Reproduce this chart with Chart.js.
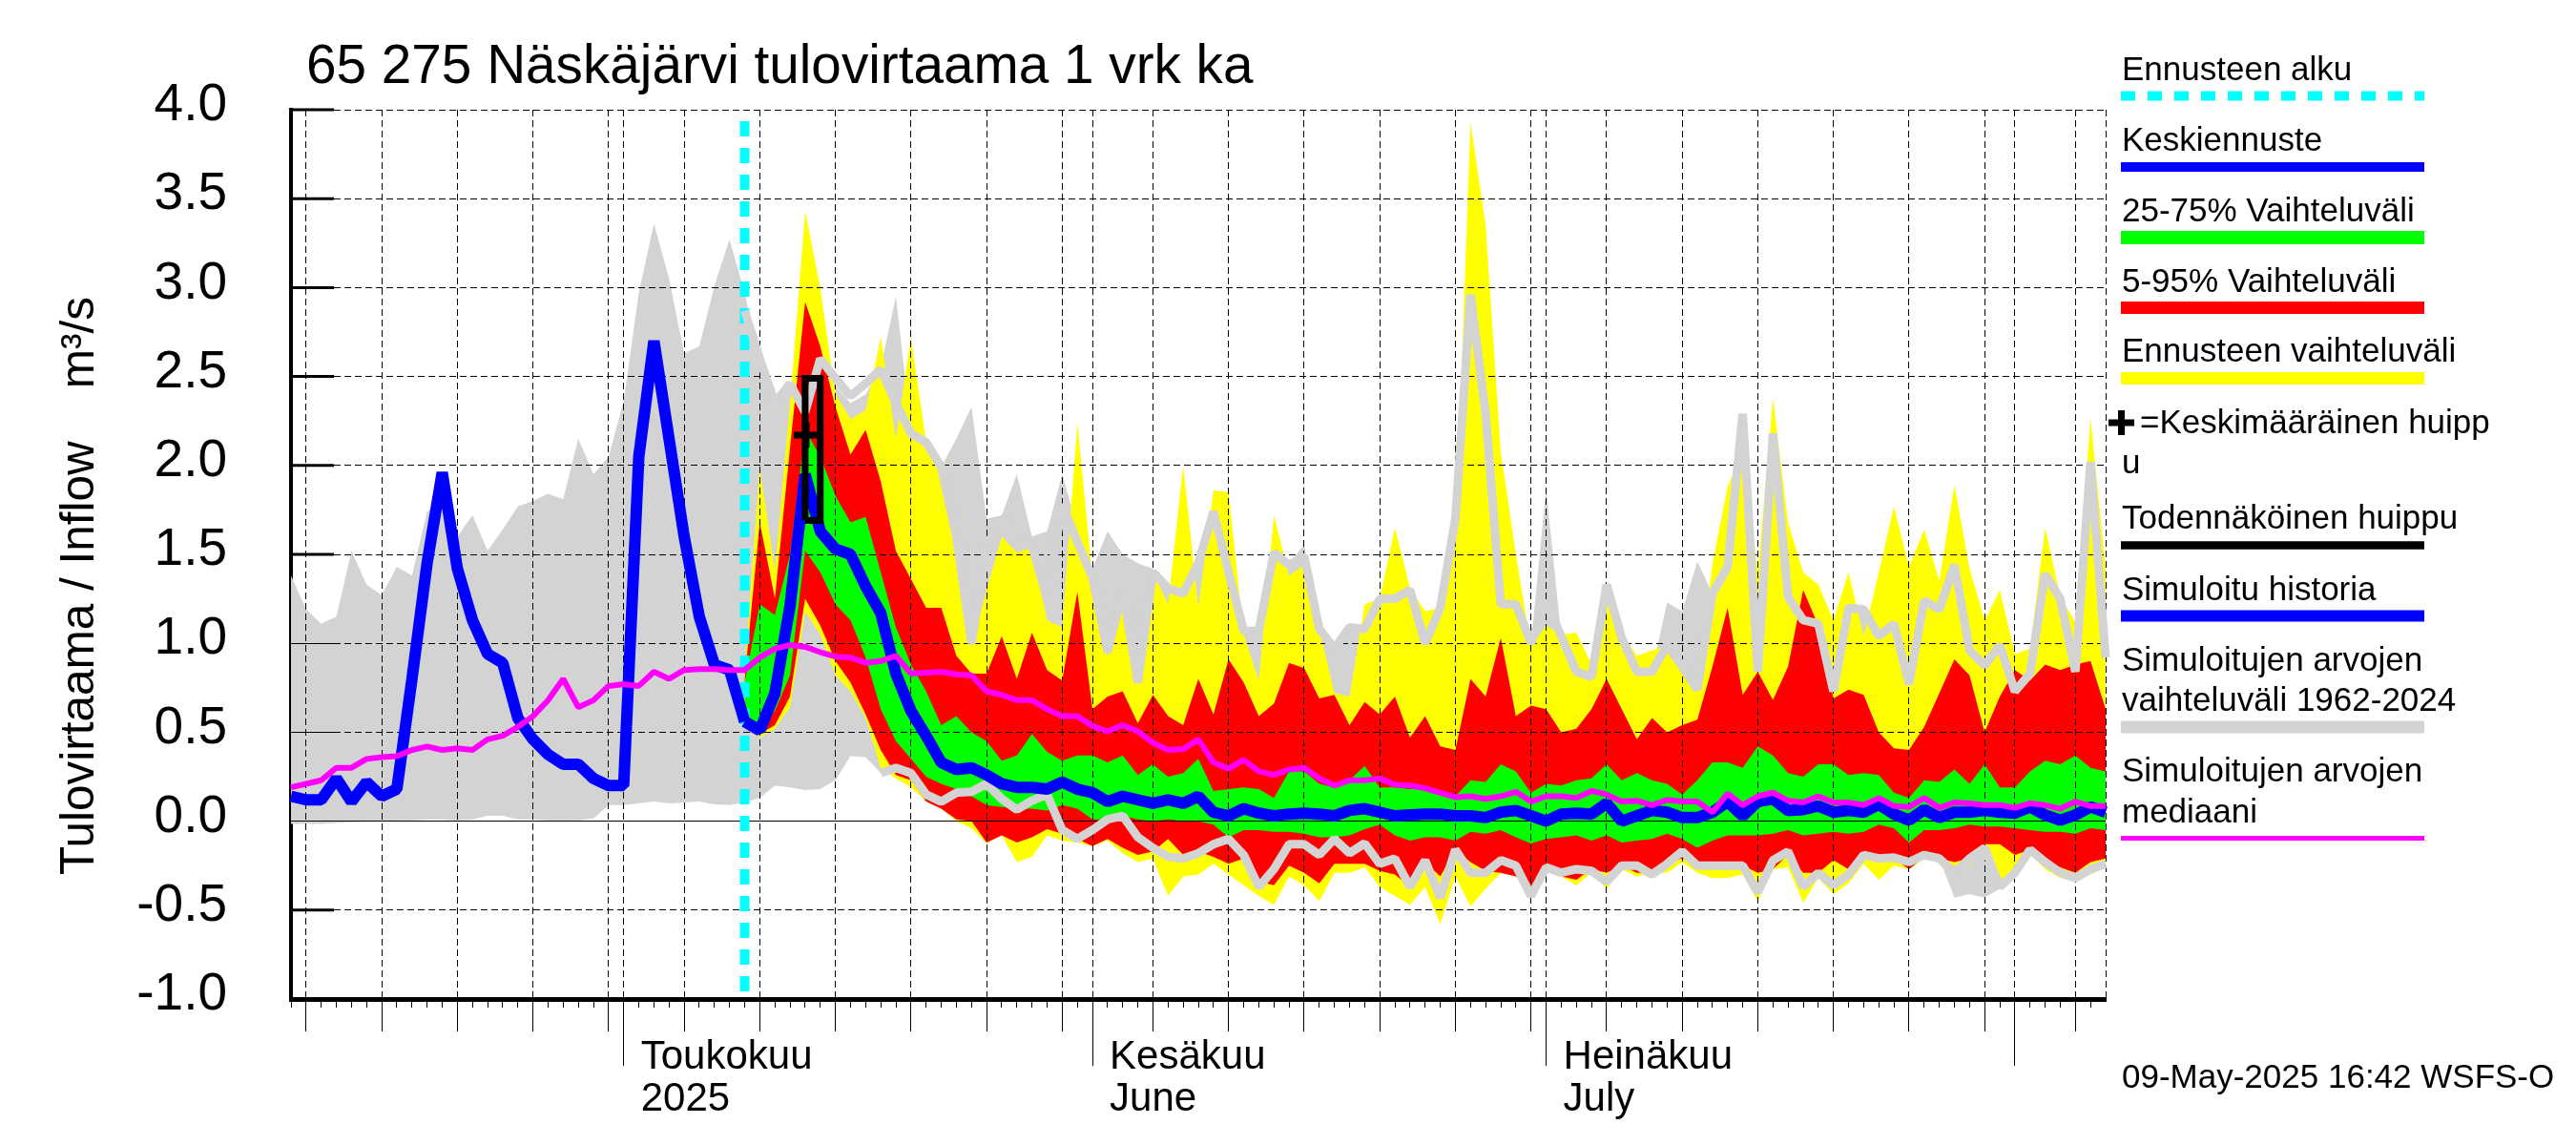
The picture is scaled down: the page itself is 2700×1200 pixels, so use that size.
<!DOCTYPE html>
<html>
<head>
<meta charset="utf-8">
<title>Näskäjärvi tulovirtaama</title>
<script src="https://cdn.jsdelivr.net/npm/chart.js@4/dist/chart.umd.min.js"></script>
<style>
  html, body { margin: 0; padding: 0; background: #fff; }
  canvas { display: block; }
</style>
</head>
<body>
<canvas id="chart" width="2700" height="1200"></canvas>
<script>
// x is days counted from 9 Apr 2025, one value per day
const lastDay = 120;
const forecastStart = 30;
const monthDays = [22, 53, 83, 114];
const monthLabels = [['Toukokuu', '2025'], ['Kesäkuu', 'June'], ['Heinäkuu', 'July'], ''];
const gridDays = [1, 6, 11, 16, 21, 22, 26, 31, 36, 41, 46, 51, 53, 57, 62, 67, 72, 77, 82, 83, 87, 92, 97, 102, 107, 112, 114, 118, 120];
const yTicks = [-1, -0.5, 0, 0.5, 1, 1.5, 2, 2.5, 3, 3.5, 4];

// day 0 ->
const simHi = [1.38, 1.19, 1.11, 1.15, 1.52, 1.33, 1.27, 1.43, 1.38, 1.74, 1.8, 1.6, 1.72, 1.52, 1.64, 1.77, 1.8, 1.84, 1.81, 2.15, 1.95, 2.05, 2.36, 2.97, 3.36, 3.05, 2.63, 2.67, 3.01, 3.27, 2.97, 2.58, 2.34, 2.46, 2.4, 2.55, 2.45, 2.35, 2.4, 2.55, 2.95, 2.2, 2.1, 1.99, 2.15, 2.33, 1.7, 1.72, 1.95, 1.6, 1.63, 1.95, 1.65, 1.42, 1.63, 1.5, 1.45, 1.42, 1.31, 1.28, 1.45, 1.74, 1.4, 1.07, 1.07, 1.51, 1.44, 1.56, 1.08, 0.97, 1.09, 1.08, 1.25, 1.25, 1.3, 1, 1.2, 1.7, 2.96, 2.29, 1.22, 1.22, 1, 1.87, 1.04, 0.84, 0.81, 1.33, 1.03, 0.84, 0.84, 1.23, 1.18, 1.46, 1.28, 1.43, 2.29, 0.84, 2.18, 1.26, 1.13, 1.11, 0.73, 1.2, 1.19, 1.04, 1.11, 0.77, 1.24, 1.19, 1.44, 0.96, 0.875, 0.99, 0.73, 0.83, 1.39, 1.25, 0.84, 2.02, 0.92];
const simLo = [-0.015, -0.015, -0.015, -0.01, -0.006, -0.002, 0, 0.005, 0.005, 0.01, 0.01, 0.005, 0.01, 0.03, 0.03, 0.01, 0.01, 0.005, 0.005, 0.005, 0.015, 0.09, 0.09, 0.1, 0.11, 0.1, 0.105, 0.11, 0.095, 0.09, 0.105, 0.13, 0.2, 0.19, 0.175, 0.18, 0.23, 0.365, 0.36, 0.27, 0.3, 0.27, 0.15, 0.11, 0.16, 0.165, 0.21, 0.125, 0.065, 0.115, 0.15, -0.05, -0.1, -0.05, 0.01, 0.03, -0.09, -0.15, -0.2, -0.21, -0.18, -0.13, -0.1, -0.19, -0.37, -0.27, -0.13, -0.13, -0.19, -0.1, -0.18, -0.125, -0.24, -0.21, -0.37, -0.22, -0.43, -0.16, -0.29, -0.29, -0.22, -0.25, -0.42, -0.26, -0.29, -0.27, -0.28, -0.34, -0.25, -0.25, -0.3, -0.24, -0.17, -0.25, -0.25, -0.25, -0.25, -0.4, -0.22, -0.17, -0.37, -0.29, -0.36, -0.3, -0.19, -0.21, -0.205, -0.23, -0.19, -0.21, -0.43, -0.41, -0.43, -0.38, -0.29, -0.16, -0.23, -0.29, -0.32, -0.27, -0.24];
const median = [0.19, 0.21, 0.23, 0.3, 0.3, 0.35, 0.36, 0.365, 0.4, 0.42, 0.4, 0.41, 0.4, 0.46, 0.48, 0.53, 0.59, 0.68, 0.8, 0.64, 0.68, 0.76, 0.77, 0.76, 0.84, 0.8, 0.85, 0.855, 0.855, 0.85, 0.85, 0.92, 0.97, 0.99, 0.98, 0.95, 0.925, 0.92, 0.89, 0.9, 0.93, 0.83, 0.835, 0.84, 0.825, 0.82, 0.73, 0.71, 0.68, 0.68, 0.63, 0.59, 0.59, 0.535, 0.505, 0.54, 0.505, 0.44, 0.4, 0.405, 0.46, 0.33, 0.295, 0.345, 0.28, 0.26, 0.29, 0.3, 0.24, 0.2, 0.23, 0.23, 0.24, 0.205, 0.2, 0.185, 0.16, 0.135, 0.14, 0.125, 0.14, 0.165, 0.11, 0.14, 0.14, 0.13, 0.17, 0.15, 0.11, 0.115, 0.09, 0.12, 0.11, 0.11, 0.05, 0.155, 0.09, 0.14, 0.16, 0.115, 0.105, 0.14, 0.105, 0.105, 0.09, 0.13, 0.085, 0.08, 0.13, 0.075, 0.105, 0.1, 0.09, 0.09, 0.075, 0.1, 0.09, 0.07, 0.11, 0.085, 0.085];
const history = [0.14, 0.12, 0.12, 0.24, 0.11, 0.22, 0.14, 0.18, 0.8, 1.45, 1.96, 1.42, 1.13, 0.94, 0.89, 0.58, 0.46, 0.375, 0.32, 0.32, 0.24, 0.2, 0.2, 2.05, 2.7, 2.15, 1.6, 1.15, 0.88, 0.85, 0.56];

// day 30 ->
const meanForecast = [0.56, 0.51, 0.72, 1.21, 1.95, 1.63, 1.53, 1.5, 1.32, 1.17, 0.83, 0.62, 0.48, 0.33, 0.29, 0.3, 0.26, 0.21, 0.19, 0.19, 0.18, 0.22, 0.18, 0.16, 0.11, 0.14, 0.12, 0.1, 0.12, 0.1, 0.14, 0.05, 0.03, 0.07, 0.045, 0.03, 0.04, 0.045, 0.04, 0.03, 0.06, 0.07, 0.05, 0.03, 0.035, 0.04, 0.04, 0.03, 0.03, 0.02, 0.05, 0.06, 0.03, 0, 0.04, 0.045, 0.04, 0.1, 0, 0.03, 0.06, 0.05, 0.02, 0.02, 0.05, 0.11, 0.03, 0.11, 0.125, 0.06, 0.065, 0.085, 0.05, 0.06, 0.05, 0.095, 0.04, 0.005, 0.065, 0.02, 0.05, 0.05, 0.06, 0.05, 0.045, 0.08, 0.035, 0.005, 0.035, 0.08, 0.05];
const yellowHi = [0.85, 1.99, 1.41, 2.35, 3.43, 3, 2.4, 2.26, 2.31, 2.72, 2.15, 2.72, 2.13, 1.99, 1.52, 0.97, 1.3, 1.6, 1.51, 1.54, 1.13, 1.09, 2.24, 1.37, 0.92, 1.28, 0.76, 1.4, 1.22, 2, 1.2, 1.86, 1.85, 1.05, 0.79, 1.72, 1.38, 1.44, 1.08, 0.72, 0.7, 1.22, 1.25, 1.65, 1.31, 1.18, 1.2, 1.58, 3.93, 3.35, 2.08, 1.5, 0.98, 1.1, 1.05, 1.06, 0.88, 1.3, 1.06, 0.93, 0.96, 0.99, 0.87, 0.74, 1.45, 1.88, 2.08, 1.4, 2.38, 1.68, 1.4, 1.33, 1.13, 1.4, 1.04, 1.4, 1.77, 1.43, 1.64, 1.35, 1.89, 1.42, 1.13, 1.3, 0.94, 0.97, 1.65, 1.26, 1.12, 2.27, 1.42];
const yellowLo = [0.57, 0.47, 0.52, 0.64, 1.18, 1.05, 0.82, 0.73, 0.58, 0.3, 0.24, 0.19, 0.11, 0.07, 0, -0.04, -0.125, -0.08, -0.23, -0.2, -0.08, -0.11, -0.12, -0.14, -0.11, -0.18, -0.23, -0.21, -0.42, -0.31, -0.3, -0.24, -0.3, -0.36, -0.42, -0.47, -0.31, -0.36, -0.45, -0.29, -0.29, -0.26, -0.37, -0.42, -0.47, -0.37, -0.58, -0.31, -0.48, -0.38, -0.29, -0.31, -0.42, -0.26, -0.31, -0.36, -0.29, -0.38, -0.27, -0.31, -0.29, -0.29, -0.23, -0.29, -0.32, -0.32, -0.3, -0.45, -0.27, -0.26, -0.46, -0.32, -0.41, -0.35, -0.24, -0.33, -0.25, -0.27, -0.21, -0.21, -0.25, -0.25, -0.14, -0.37, -0.26, -0.18, -0.27, -0.32, -0.33, -0.3, -0.26];
const redHi = [0.8, 1.68, 1.25, 2.1, 2.92, 2.67, 2.33, 2.06, 2.2, 1.91, 1.52, 1.36, 1.2, 1.2, 0.93, 0.83, 0.83, 1.04, 0.8, 1.06, 0.85, 0.79, 1.29, 0.63, 0.7, 0.73, 0.55, 0.71, 0.59, 0.54, 0.8, 0.6, 0.91, 0.78, 0.59, 0.66, 0.89, 0.86, 0.69, 0.71, 0.54, 0.67, 0.6, 0.7, 0.47, 0.59, 0.42, 0.4, 0.8, 0.7, 1.03, 0.59, 0.65, 0.63, 0.5, 0.52, 0.63, 0.8, 0.63, 0.46, 0.58, 0.5, 0.54, 0.57, 0.87, 1.2, 0.71, 0.84, 0.68, 0.87, 1.3, 1.1, 0.69, 0.74, 0.71, 0.5, 0.41, 0.4, 0.53, 0.72, 0.91, 0.82, 0.5, 0.7, 0.85, 0.79, 0.88, 0.85, 0.88, 0.9, 0.63];
const redLo = [0.57, 0.49, 0.54, 0.7, 1.25, 1.1, 0.9, 0.78, 0.6, 0.4, 0.26, 0.23, 0.11, 0.07, 0.01, 0, -0.12, -0.08, -0.12, -0.09, -0.045, -0.07, -0.1, -0.14, -0.1, -0.15, -0.19, -0.17, -0.1, -0.19, -0.17, -0.2, -0.24, -0.21, -0.34, -0.36, -0.25, -0.29, -0.35, -0.24, -0.24, -0.24, -0.28, -0.3, -0.37, -0.23, -0.31, -0.16, -0.23, -0.28, -0.29, -0.31, -0.38, -0.27, -0.31, -0.33, -0.27, -0.29, -0.25, -0.29, -0.29, -0.24, -0.21, -0.24, -0.25, -0.25, -0.25, -0.29, -0.27, -0.19, -0.29, -0.29, -0.22, -0.27, -0.2, -0.21, -0.21, -0.27, -0.2, -0.21, -0.23, -0.21, -0.13, -0.13, -0.19, -0.16, -0.22, -0.26, -0.29, -0.23, -0.21];
const greenHi = [0.78, 1.22, 1.16, 1.5, 2.2, 2.05, 1.83, 1.68, 1.71, 1.4, 1.09, 0.88, 0.73, 0.54, 0.59, 0.5, 0.45, 0.34, 0.37, 0.49, 0.39, 0.34, 0.37, 0.37, 0.33, 0.37, 0.26, 0.32, 0.25, 0.27, 0.35, 0.17, 0.18, 0.19, 0.18, 0.13, 0.28, 0.28, 0.21, 0.19, 0.23, 0.31, 0.19, 0.19, 0.18, 0.18, 0.16, 0.14, 0.23, 0.22, 0.32, 0.28, 0.16, 0.21, 0.2, 0.23, 0.24, 0.32, 0.23, 0.27, 0.23, 0.21, 0.15, 0.23, 0.33, 0.33, 0.3, 0.42, 0.37, 0.27, 0.25, 0.32, 0.32, 0.26, 0.27, 0.26, 0.16, 0.13, 0.23, 0.22, 0.29, 0.21, 0.32, 0.19, 0.19, 0.28, 0.34, 0.32, 0.37, 0.3, 0.28];
const greenLo = [0.6, 0.51, 0.62, 0.82, 1.52, 1.4, 1.22, 1.13, 0.92, 0.63, 0.45, 0.35, 0.25, 0.21, 0.18, 0.14, 0.09, 0.08, 0.07, 0.07, 0.06, 0.09, 0.07, 0.01, 0.01, 0.03, 0.01, 0, 0.01, 0, 0, -0.02, -0.09, -0.05, -0.05, -0.06, -0.06, -0.07, -0.09, -0.09, -0.08, -0.045, -0.02, -0.08, -0.11, -0.09, -0.09, -0.11, -0.06, -0.07, -0.05, -0.09, -0.125, -0.1, -0.09, -0.08, -0.11, -0.08, -0.12, -0.11, -0.1, -0.07, -0.1, -0.15, -0.11, -0.08, -0.08, -0.08, -0.07, -0.05, -0.08, -0.07, -0.06, -0.07, -0.06, -0.02, -0.04, -0.12, -0.05, -0.05, -0.04, -0.02, -0.03, -0.03, -0.04, -0.05, -0.06, -0.06, -0.07, -0.04, -0.05];
const simLineHi = [2.87, 2.6, 2.35, 2.46, 2.3, 2.6, 2.49, 2.39, 2.46, 2.54, 2.35, 2.18, 2.13, 1.99, 1.6, 1, 1.55, 1.7, 1.65, 1.55, 1.25, 1.78, 1.57, 1.37, 0.95, 1.3, 0.78, 1.4, 1.31, 1.28, 1.45, 1.74, 1.4, 1.07, 1.07, 1.51, 1.44, 1.49, 1.08, 0.97, 1.09, 1.08, 1.25, 1.25, 1.3, 1, 1.2, 1.7, 2.96, 2.29, 1.22, 1.22, 1, 1.24, 1.04, 0.84, 0.81, 1.33, 1.03, 0.84, 0.84, 0.99, 0.87, 0.74, 1.28, 1.43, 2.29, 0.84, 2.18, 1.26, 1.13, 1.11, 0.73, 1.2, 1.19, 1.04, 1.11, 0.77, 1.24, 1.19, 1.44, 0.96, 0.875, 0.99, 0.73, 0.83, 1.39, 1.25, 0.84, 2.02, 0.92];

// day 39 ->
const simLineLo = [0.27, 0.3, 0.27, 0.15, 0.11, 0.16, 0.165, 0.21, 0.125, 0.065, 0.115, 0.15, -0.05, -0.1, -0.05, 0.01, 0.03, -0.09, -0.15, -0.2, -0.21, -0.18, -0.13, -0.1, -0.19, -0.37, -0.27, -0.13, -0.13, -0.19, -0.1, -0.18, -0.125, -0.24, -0.21, -0.37, -0.22, -0.43, -0.16, -0.29, -0.29, -0.22, -0.25, -0.42, -0.26, -0.29, -0.27, -0.28, -0.34, -0.25, -0.25, -0.3, -0.24, -0.17, -0.25, -0.25, -0.25, -0.25, -0.4, -0.22, -0.17, -0.37, -0.29, -0.36, -0.3, -0.19, -0.21, -0.205, -0.23, -0.19, -0.21, -0.29, -0.21, -0.15, -0.37, -0.29, -0.16, -0.23, -0.29, -0.32, -0.27, -0.24];

// peak markers
const probablePeakBox = [[34, 1.69], [34, 2.49], [35, 2.49], [35, 1.69], [34, 1.69]];
const meanPeak = [[34.07, 2.17]];

const FONT = '"Liberation Sans"';

function series(values, startDay) {
    return values.map((y, i) => ({ x: startDay + i, y: y }));
}
function pairs(list) {
    return list.map(p => ({ x: p[0], y: p[1] }));
}
function band(label, values, startDay, color, fillTo, order) {
    return {
        label: label, data: series(values, startDay), borderWidth: 0, pointRadius: 0,
        backgroundColor: color, fill: fillTo === null ? false : { target: fillTo, above: color, below: color }, order: order
    };
}
function line(label, data, color, width, order, extra) {
    return Object.assign({
        label: label, data: data, borderColor: color, borderWidth: width, pointRadius: 0,
        fill: false, clip: false, borderJoinStyle: 'bevel', borderCapStyle: 'butt', order: order
    }, extra || {});
}

const datasets = [
    band('simHi', simHi, 0, '#d3d3d3', 1, 20),
    band('simLo', simLo, 0, '#d3d3d3', null, 21),
    band('yellowHi', yellowHi, forecastStart, '#ffff00', 3, 18),
    band('yellowLo', yellowLo, forecastStart, '#ffff00', null, 19),
    band('redHi', redHi, forecastStart, '#ff0000', 5, 16),
    band('redLo', redLo, forecastStart, '#ff0000', null, 17),
    band('greenHi', greenHi, forecastStart, '#00ff00', 7, 14),
    band('greenLo', greenLo, forecastStart, '#00ff00', null, 15),
    line('Ennusteen alku', pairs([[forecastStart, 4], [forecastStart, -1]]), '#00ffff', 10, 13, { borderDash: [16, 12], borderDashOffset: 16 }),
    line('simLineHi', series(simLineHi, forecastStart), '#d3d3d3', 9, 7),
    line('simLineLo', series(simLineLo, 39), '#d3d3d3', 9, 6),
    line('Simuloitu historia', series(history, 0), '#0000ff', 12, 5),
    line('Keskiennuste', series(meanForecast, forecastStart), '#0000ff', 12, 4),
    line('Simuloitujen arvojen mediaani', series(median, 0), '#ff00ff', 6, 3),
    line('Todennäköinen huippu', pairs(probablePeakBox), '#000000', 7, 2, { borderJoinStyle: 'miter' }),
    { label: 'Keskimääräinen huippu', data: pairs(meanPeak), showLine: false, pointStyle: 'cross', pointRadius: 13, pointBorderWidth: 7, pointBorderColor: '#000000', pointBackgroundColor: '#000000', clip: false, order: 1 }
];

// legend rows: text lines (text, baseline) and the sample line under them
const legendRows = [
    { text: [['Ennusteen alku', 83.5]], y: 100.5, w: 10, color: '#00ffff', dash: [15, 13] },
    { text: [['Keskiennuste', 158]], y: 175, w: 10, color: '#0000ff' },
    { text: [['25-75% Vaihteluväli', 231.5]], y: 249, w: 14, color: '#00ff00' },
    { text: [['5-95% Vaihteluväli', 305.5]], y: 322.5, w: 13, color: '#ff0000' },
    { text: [['Ennusteen vaihteluväli', 379]], y: 396.5, w: 13, color: '#ffff00' },
    { text: [['u', 496]] },
    { text: [['Todennäköinen huippu', 554]], y: 571.5, w: 8.5, color: '#000000' },
    { text: [['Simuloitu historia', 629]], y: 645.5, w: 12, color: '#0000ff' },
    { text: [['Simuloitujen arvojen', 702.5], ['vaihteluväli 1962-2024', 745]], y: 762, w: 13, color: '#d3d3d3' },
    { text: [['Simuloitujen arvojen', 818.5], ['mediaani', 862]], y: 878.5, w: 5, color: '#ff00ff' }
];

// y ticks sit under the fills, grid sits over the fills but under the lines
const axisMarks = {
    id: 'axisMarks',
    beforeDatasetsDraw(chart) {
        const ctx = chart.ctx, y = chart.scales.y, a = chart.chartArea;
        ctx.save();
        ctx.strokeStyle = '#000';
        ctx.lineWidth = 3;
        yTicks.forEach(v => {
            const py = y.getPixelForValue(v);
            ctx.beginPath();
            ctx.moveTo(a.left - 2, py);
            ctx.lineTo(a.left + 45, py);
            ctx.stroke();
        });
        ctx.restore();
    },
    afterDatasetDraw(chart, args) {
        if (chart.data.datasets[args.index].label !== 'greenHi') return;
        const ctx = chart.ctx, x = chart.scales.x, y = chart.scales.y, a = chart.chartArea;
        ctx.save();
        ctx.strokeStyle = '#000';
        ctx.lineWidth = 1;
        ctx.setLineDash([7, 4]);
        yTicks.forEach(v => {
            if (v === -1 || v === 0) return;
            const py = Math.floor(y.getPixelForValue(v)) + 0.5;
            ctx.beginPath();
            ctx.moveTo(a.left + 45, py);
            ctx.lineTo(a.right, py);
            ctx.stroke();
        });
        gridDays.forEach(d => {
            const px = Math.floor(x.getPixelForValue(d)) + 0.5;
            ctx.beginPath();
            ctx.moveTo(px, a.top);
            ctx.lineTo(px, a.bottom);
            ctx.stroke();
        });
        ctx.setLineDash([]);
        const zero = Math.floor(y.getPixelForValue(0)) + 0.5;
        ctx.beginPath();
        ctx.moveTo(a.left, zero);
        ctx.lineTo(a.right, zero);
        ctx.stroke();
        // thin solid stubs stay visible where the grey fill covers the ticks
        yTicks.forEach(v => {
            const py = Math.floor(y.getPixelForValue(v)) + 0.5;
            ctx.beginPath();
            ctx.moveTo(a.left, py);
            ctx.lineTo(a.left + 45, py);
            ctx.stroke();
        });
        ctx.restore();
    },
    afterDraw(chart) {
        const ctx = chart.ctx, x = chart.scales.x, a = chart.chartArea;
        ctx.save();
        ctx.strokeStyle = '#000';
        ctx.lineWidth = 1;
        for (let d = 0; d < lastDay; d++) {
            const len = monthDays.includes(d) ? 70 : gridDays.includes(d) ? 34 : 9;
            const px = Math.floor(x.getPixelForValue(d)) + 0.5;
            ctx.beginPath();
            ctx.moveTo(px, a.bottom);
            ctx.lineTo(px, a.bottom + len);
            ctx.stroke();
        }
        ctx.restore();
    }
};

const textMarks = {
    id: 'textMarks',
    afterDraw(chart) {
        const ctx = chart.ctx;
        ctx.save();
        ctx.fillStyle = '#000';
        ctx.textAlign = 'left';
        ctx.textBaseline = 'alphabetic';

        ctx.font = '56.7px ' + FONT;
        ctx.fillText('65 275 Näskäjärvi tulovirtaama 1 vrk ka', 321, 87);

        ctx.save();
        ctx.translate(98, 917);
        ctx.rotate(-Math.PI / 2);
        ctx.font = '49.5px ' + FONT;
        ctx.fillText('Tulovirtaama / Inflow    m³/s', 0, 0);
        ctx.restore();

        ctx.font = '35px ' + FONT;
        legendRows.forEach(row => {
            row.text.forEach(t => ctx.fillText(t[0], 2224, t[1]));
            if (!row.color) return;
            ctx.save();
            ctx.strokeStyle = row.color;
            ctx.lineWidth = row.w;
            if (row.dash) ctx.setLineDash(row.dash);
            ctx.beginPath();
            ctx.moveTo(2223, row.y);
            ctx.lineTo(2541, row.y);
            ctx.stroke();
            ctx.restore();
        });
        ctx.fillText('=Keskimääräinen huipp', 2243, 453.5);
        ctx.fillText('09-May-2025 16:42 WSFS-O', 2224, 1140);

        ctx.strokeStyle = '#000';
        ctx.lineWidth = 7;
        ctx.beginPath();
        ctx.moveTo(2210, 443);
        ctx.lineTo(2237, 443);
        ctx.moveTo(2223.5, 430);
        ctx.lineTo(2223.5, 456);
        ctx.stroke();
        ctx.restore();
    }
};

new Chart(document.getElementById('chart'), {
    type: 'line',
    data: { datasets: datasets },
    plugins: [axisMarks, textMarks],
    options: {
        responsive: false,
        animation: false,
        devicePixelRatio: 1,
        layout: { padding: { left: 0, top: 115, right: 493, bottom: 0 } },
        elements: { line: { tension: 0 } },
        plugins: { legend: { display: false }, title: { display: false }, tooltip: { enabled: false } },
        scales: {
            x: {
                type: 'linear', min: 0, max: lastDay,
                afterFit(s) { s.height = 153; },
                afterBuildTicks(s) { s.ticks = monthDays.map(v => ({ value: v })); },
                grid: { display: false, drawTicks: false },
                border: { color: '#000', width: 5 },
                ticks: {
                    autoSkip: false, maxRotation: 0, align: 'start', labelOffset: 18, padding: 39, color: '#000',
                    font: { family: FONT, size: 42, lineHeight: 1.06 },
                    callback(v) { return monthLabels[monthDays.indexOf(v)]; }
                }
            },
            y: {
                type: 'linear', min: -1, max: 4,
                afterFit(s) { s.width = 305; },
                afterBuildTicks(s) { s.ticks = yTicks.map(v => ({ value: v })); },
                grid: { display: false, drawTicks: false },
                border: { color: '#000', width: 4 },
                ticks: {
                    padding: 67, labelOffset: -4, color: '#000',
                    font: { family: FONT, size: 55 },
                    callback(v) { return v.toFixed(1); }
                }
            }
        }
    }
});
</script>
</body>
</html>
